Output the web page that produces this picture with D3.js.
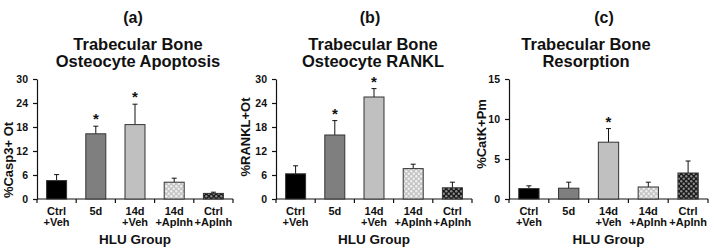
<!DOCTYPE html>
<html>
<head>
<meta charset="utf-8">
<script src="https://cdn.jsdelivr.net/npm/d3@7"></script>
<style>
  body { margin: 0; background: #fff; }
  text { font-family: "Liberation Sans", Arial, sans-serif; font-weight: bold; fill: #111; }
</style>
</head>
<body>
<div id="chart"></div>
<script>
// data
const groups = [["Ctrl", "+Veh"], ["5d", ""], ["14d", "+Veh"], ["14d", "+ApInh"], ["Ctrl", "+ApInh"]];

const casp3Mean = [4.6, 16.3, 18.6, 4.2, 1.4];
const casp3Err = [1.5, 1.9, 5.1, 1.0, 0.3];
const casp3Star = [false, true, true, false, false];

const ranklMean = [6.3, 16.0, 25.5, 7.6, 2.8];
const ranklErr = [2.0, 3.6, 2.1, 1.1, 1.4];
const ranklStar = [false, true, true, false, false];

const catkMean = [1.3, 1.35, 7.1, 1.5, 3.25];
const catkErr = [0.35, 0.75, 1.7, 0.6, 1.5];
const catkStar = [false, false, true, false, false];

const yTicksA = [0, 6, 12, 18, 24, 30];
const yTicksB = [0, 6, 12, 18, 24, 30];
const yTicksC = [0, 5, 10, 15];

const barFills = ["#000", "#7f7f7f", "#c0c0c0", "url(#patLight)", "url(#patDark)"];

const width = 714, height = 252;
const svg = d3.select("#chart").append("svg").attr("width", width).attr("height", height);
svg.append("rect").attr("width", width).attr("height", height).attr("fill", "#fff");

const defs = svg.append("defs");
function makePattern(id, bg, dot) {
    const p = defs.append("pattern").attr("id", id).attr("patternUnits", "userSpaceOnUse")
        .attr("width", 5).attr("height", 5);
    p.append("rect").attr("width", 5).attr("height", 5).attr("fill", bg);
    p.append("circle").attr("cx", 1.25).attr("cy", 1.25).attr("r", 1.2).attr("fill", dot);
    p.append("circle").attr("cx", 3.75).attr("cy", 3.75).attr("r", 1.2).attr("fill", dot);
}
makePattern("patLight", "#c4c4c4", "#efefef");
makePattern("patDark", "#1a1a1a", "#8a8a8a");

const panels = [
    { tag: "(a)", title: ["Trabecular Bone", "Osteocyte Apoptosis"], ylab: "%Casp3+ Ot",
      mean: casp3Mean, err: casp3Err, star: casp3Star, ticks: yTicksA, max: 30,
      x0: 37, x1: 233, tagX: 133, titleX: 138, ylabX: 9, ylabY: 160 },
    { tag: "(b)", title: ["Trabecular Bone", "Osteocyte RANKL"], ylab: "%RANKL+Ot",
      mean: ranklMean, err: ranklErr, star: ranklStar, ticks: yTicksB, max: 30,
      x0: 276, x1: 472, tagX: 370, titleX: 373, ylabX: 246, ylabY: 137 },
    { tag: "(c)", title: ["Trabecular Bone", "Resorption"], ylab: "%CatK+Pm",
      mean: catkMean, err: catkErr, star: catkStar, ticks: yTicksC, max: 15,
      x0: 509, x1: 708, tagX: 604, titleX: 586, ylabX: 482, ylabY: 134 }
];

const yTop = 79, yBottom = 199;

panels.forEach(p => {
    const g = svg.append("g");
    const x = d3.scaleBand().domain(d3.range(groups.length)).range([p.x0, p.x1]);
    const y = d3.scaleLinear().domain([0, p.max]).range([yBottom, yTop]);
    const bw = x.bandwidth() * 0.51;

    // titles
    g.append("text").attr("x", p.tagX).attr("y", 23).attr("text-anchor", "middle")
        .style("font-size", "16px").text(p.tag);
    p.title.forEach((t, i) => {
        g.append("text").attr("x", p.titleX).attr("y", 50 + i * 17).attr("text-anchor", "middle")
            .style("font-size", "16.5px").text(t);
    });

    // y axis
    const yAxis = g.append("g").attr("transform", `translate(${p.x0},0)`)
        .call(d3.axisLeft(y).tickValues(p.ticks).tickSize(4).tickPadding(5).tickSizeOuter(0));
    yAxis.select(".domain").attr("stroke", "#111").attr("stroke-width", 1.2);
    yAxis.selectAll(".tick line").attr("stroke", "#111").attr("stroke-width", 1.2);
    yAxis.selectAll("text").style("font-size", "10.5px").style("font-family", "Liberation Sans, Arial, sans-serif")
        .style("font-weight", "bold").attr("fill", "#111");

    g.append("text")
        .attr("transform", `translate(${p.ylabX + 4},${p.ylabY}) rotate(-90)`)
        .attr("text-anchor", "middle").style("font-size", "13px").text(p.ylab);

    // x axis: ticks at group boundaries
    g.append("line").attr("x1", p.x0).attr("x2", p.x1).attr("y1", yBottom).attr("y2", yBottom)
        .attr("stroke", "#111").attr("stroke-width", 1.2);
    const bounds = d3.range(groups.length + 1).map(i => i < groups.length ? x(i) : p.x1);
    g.selectAll(".xt").data(bounds).join("line")
        .attr("x1", d => d).attr("x2", d => d).attr("y1", yBottom).attr("y2", yBottom + 4)
        .attr("stroke", "#111").attr("stroke-width", 1.2);

    groups.forEach((lab, i) => {
        const cx = x(i) + x.bandwidth() / 2;
        lab.forEach((l, j) => {
            if (!l) return;
            g.append("text").attr("x", cx).attr("y", 215 + j * 11).attr("text-anchor", "middle")
                .style("font-size", "11px").text(l);
        });
    });
    g.append("text").attr("x", (p.x0 + p.x1) / 2).attr("y", 244).attr("text-anchor", "middle")
        .style("font-size", "13.5px").text("HLU Group");

    // error bars (upper only)
    const barData = p.mean.map((m, i) => ({ i, m, e: p.err[i], s: p.star[i] }));
    g.selectAll(".eb").data(barData).join("line")
        .attr("x1", d => x(d.i) + x.bandwidth() / 2).attr("x2", d => x(d.i) + x.bandwidth() / 2)
        .attr("y1", d => y(d.m)).attr("y2", d => y(d.m + d.e))
        .attr("stroke", "#111").attr("stroke-width", 1);
    g.selectAll(".cap").data(barData).join("line")
        .attr("x1", d => x(d.i) + x.bandwidth() / 2 - 2.5).attr("x2", d => x(d.i) + x.bandwidth() / 2 + 2.5)
        .attr("y1", d => y(d.m + d.e)).attr("y2", d => y(d.m + d.e))
        .attr("stroke", "#111").attr("stroke-width", 1);

    // bars
    g.selectAll(".bar").data(barData).join("rect")
        .attr("x", d => x(d.i) + (x.bandwidth() - bw) / 2)
        .attr("y", d => y(d.m))
        .attr("width", bw)
        .attr("height", d => y(0) - y(d.m))
        .attr("fill", d => barFills[d.i])
        .attr("stroke", "#333").attr("stroke-width", 1);

    // significance stars
    g.selectAll(".star").data(barData.filter(d => d.s)).join("text")
        .attr("x", d => x(d.i) + x.bandwidth() / 2)
        .attr("y", d => y(d.m + d.e) - 2)
        .attr("text-anchor", "middle").style("font-size", "15px").text("*");
});
</script>
</body>
</html>
